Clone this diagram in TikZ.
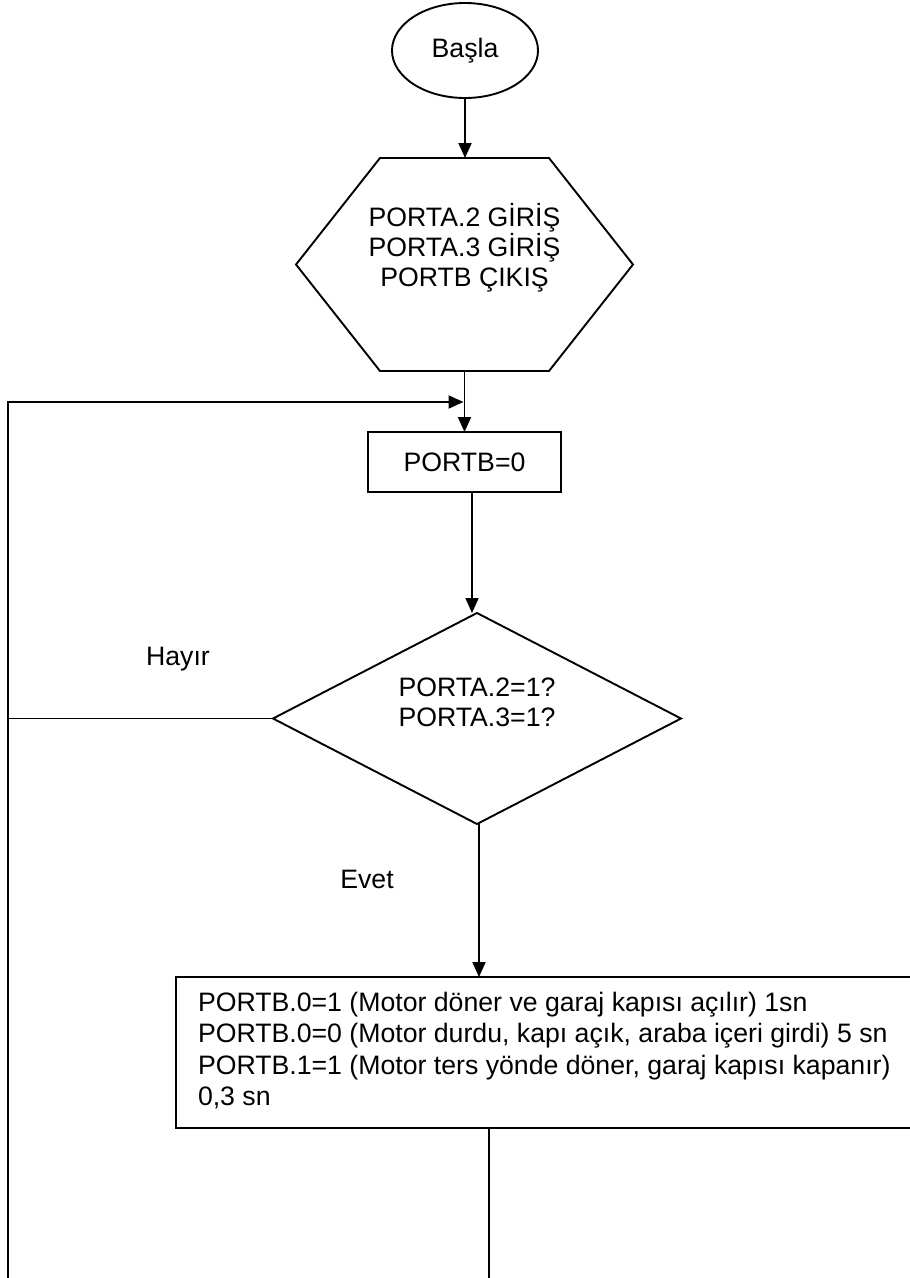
\documentclass[tikz,border=0pt]{standalone}
\usepackage{fontspec}
\setmainfont{Liberation Sans}
\usetikzlibrary{shapes.geometric,arrows.meta}
\begin{document}
\begin{tikzpicture}[x=1pt,y=-1pt,
  line width=1.9pt,
  every node/.style={font=\fontsize{26.67}{30}\selectfont, inner sep=0pt, outer sep=0pt},
  arr/.style={-{Triangle[length=15pt,width=13pt]}},
  box/.style={draw, rectangle},
  ghost/.style={rectangle}]
\useasboundingbox (0,0) rectangle (910,1278);
\clip (0,0) rectangle (910,1278);
% start
\node[draw, ellipse, minimum width=146pt, minimum height=95pt] (start) at (465,50.5) {Başla};
% hexagon
\node[ghost, minimum width=337pt, minimum height=213pt] (hex) at (464.5,264.5) {};
\draw (hex.west) -- ([xshift=84pt]hex.north west) -- ([xshift=-84pt]hex.north east) -- (hex.east)
  -- ([xshift=-84pt]hex.south east) -- ([xshift=84pt]hex.south west) -- cycle;
\node[align=center] (hextext) at (464.5,248) {PORTA.2 GİRİŞ\\PORTA.3 GİRİŞ\\PORTB ÇIKIŞ};
% PORTB=0
\node[box, minimum width=193pt, minimum height=60pt] (pb) at (464.5,462) {PORTB=0};
% decision
\node[ghost, minimum width=408pt, minimum height=211pt] (dec) at (477,718.5) {};
\draw (dec.north) -- (dec.east) -- (dec.south) -- (dec.west) -- cycle;
\node[align=center, font=\fontsize{26.67}{29.5}\selectfont] (dectext) at (477,702.5) {PORTA.2=1?\\PORTA.3=1?};
% action box
\node[box, minimum width=774pt, minimum height=151pt] (act) at (563,1052.5) {};
\node[align=left, anchor=north west, font=\fontsize{26.67}{31.5}\selectfont] (acttext) at (198,992)
  {PORTB.0=1 (Motor döner ve garaj kapısı açılır) 1sn\\
   PORTB.0=0 (Motor durdu, kapı açık, araba içeri girdi) 5 sn\\
   PORTB.1=1 (Motor ters yönde döner, garaj kapısı kapanır)\\
   0,3 sn};
% labels
\node (hayir) at (178,659) {Hayır};
\node (evet) at (367,879.5) {Evet};
% coordinates
\coordinate (bottomL) at (8,1290);
\coordinate (loopL) at (8,402);
\coordinate (loopJ) at (463.5,402);
\coordinate (decL) at (8,718.5);
\coordinate (pbout) at (472,492);
\coordinate (decout) at (479,824);
\coordinate (actout) at (489,1128);
\coordinate (bottomR) at (489,1290);
% connectors
\draw[arr] (start.south) -- (start.south |- hex.north);
\draw[arr] (hex.south) -- (pb.north);
\draw[arr] (bottomL) -- (loopL) -- (loopJ);
\draw (dec.west) -- (decL);
\draw[arr] (pbout) -- (pbout |- dec.north);
\draw[arr] (decout) -- (decout |- act.north);
\draw (actout) -- (bottomR);
\end{tikzpicture}
\end{document}
